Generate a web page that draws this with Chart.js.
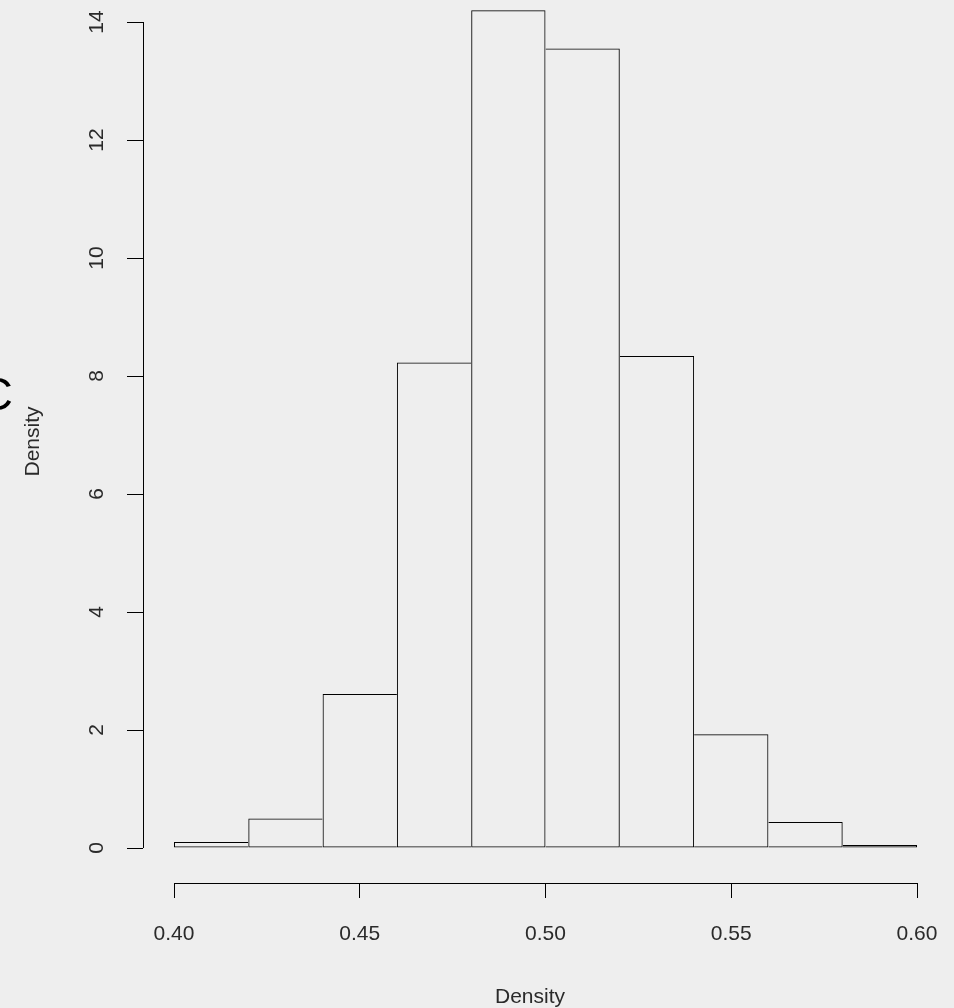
<!DOCTYPE html>
<html>
<head>
<meta charset="utf-8">
<script src="https://cdn.jsdelivr.net/npm/chart.js@4.4.1/dist/chart.umd.min.js"></script>
<style>
  html, body { margin: 0; padding: 0; background: #eeeeee; overflow: hidden; }
  #wrap { position: relative; width: 954px; height: 1008px; }
  #panel { position: absolute; left: -21px; top: 366px; font: 47px "Liberation Sans", Arial, sans-serif; color: #000; }
</style>
</head>
<body>
<div id="wrap">
  <canvas id="chart" width="954" height="1008"></canvas>
  <div id="panel">C</div>
</div>
<script>
// Histogram bins and densities
const binEdges = [0.40, 0.42, 0.44, 0.46, 0.48, 0.50, 0.52, 0.54, 0.56, 0.58, 0.60];
const densities = [0.10, 0.50, 2.61, 8.23, 14.20, 13.55, 8.34, 1.93, 0.44, 0.05];
const xTicks = [0.40, 0.45, 0.50, 0.55, 0.60];
const yTicks = [0, 2, 4, 6, 8, 10, 12, 14];

const points = densities.map((d, i) => ({ x: (binEdges[i] + binEdges[i + 1]) / 2, y: d }));

const labelFont = { family: '"Liberation Sans", Arial, sans-serif', size: 21 };
const ink = '#000000';
const textInk = '#2a2a2a';

// shared edges drawn once, by the taller bar
function edgeWidths(ctx) {
    const i = ctx.dataIndex;
    const v = densities[i];
    return {
        top: 1,
        bottom: 1,
        left: (i === 0 || v > densities[i - 1]) ? 1 : 0,
        right: (i === densities.length - 1 || v >= densities[i + 1]) ? 1 : 0
    };
}

// R style axis lines: only from first to last tick
const axisLines = {
    id: 'axisLines',
    afterDraw(chart) {
        const c = chart.ctx;
        const xs = chart.scales.x, ys = chart.scales.y;
        const area = chart.chartArea;
        c.save();
        c.strokeStyle = ink;
        c.lineWidth = 1;
        c.beginPath();
        const yb = Math.round(area.bottom) + 0.5;
        c.moveTo(xs.getPixelForValue(xTicks[0]), yb);
        c.lineTo(xs.getPixelForValue(xTicks[xTicks.length - 1]), yb);
        const xl = Math.round(area.left) + 0.5;
        c.moveTo(xl, ys.getPixelForValue(yTicks[0]));
        c.lineTo(xl, ys.getPixelForValue(yTicks[yTicks.length - 1]));
        c.stroke();
        c.restore();
    }
};

new Chart(document.getElementById('chart'), {
    type: 'bar',
    data: {
        datasets: [{
            label: 'Density',
            data: points,
            backgroundColor: 'rgba(0,0,0,0)',
            borderColor: ink,
            borderWidth: edgeWidths,
            borderSkipped: false,
            inflateAmount: 0,
            barPercentage: 1,
            categoryPercentage: 1
        }]
    },
    options: {
        responsive: false,
        animation: false,
        layout: { padding: { top: 0, left: 0, right: 37, bottom: 0 } },
        plugins: { legend: { display: false }, tooltip: { enabled: false } },
        scales: {
            x: {
                type: 'linear',
                offset: false,
                min: 0.40 - 31 / 3715,
                max: 0.60,
                grid: { offset: false, drawOnChartArea: false, drawTicks: true, tickLength: 15, color: ink },
                border: { display: false },
                afterBuildTicks: s => { s.ticks = xTicks.map(v => ({ value: v })); },
                afterFit: s => { s.height = 125; s.paddingLeft = 0; s.paddingRight = 0; },
                ticks: {
                    color: textInk,
                    font: labelFont,
                    padding: 24,
                    maxRotation: 0,
                    autoSkip: false,
                    callback: v => Number(v).toFixed(2)
                },
                title: {
                    display: true,
                    text: 'Density',
                    color: textInk,
                    font: { family: labelFont.family, size: 21, lineHeight: 1 },
                    padding: { top: 0, bottom: 0 }
                }
            },
            y: {
                min: -35 / 59,
                max: 14 + 22 / 59,
                grid: { drawOnChartArea: false, drawTicks: true, tickLength: 16, color: ink },
                border: { display: false },
                afterBuildTicks: s => { s.ticks = yTicks.map(v => ({ value: v })); },
                afterFit: s => { s.width = 143; s.paddingTop = 0; s.paddingBottom = 0; },
                ticks: {
                    color: textInk,
                    font: labelFont,
                    padding: 18,
                    minRotation: 90,
                    maxRotation: 90,
                    crossAlign: 'center',
                    autoSkip: false
                },
                title: {
                    display: true,
                    text: 'Density',
                    color: textInk,
                    font: { family: labelFont.family, size: 21, lineHeight: 1 },
                    padding: { top: 23, bottom: 0 }
                }
            }
        }
    },
    plugins: [axisLines]
});
</script>
</body>
</html>
